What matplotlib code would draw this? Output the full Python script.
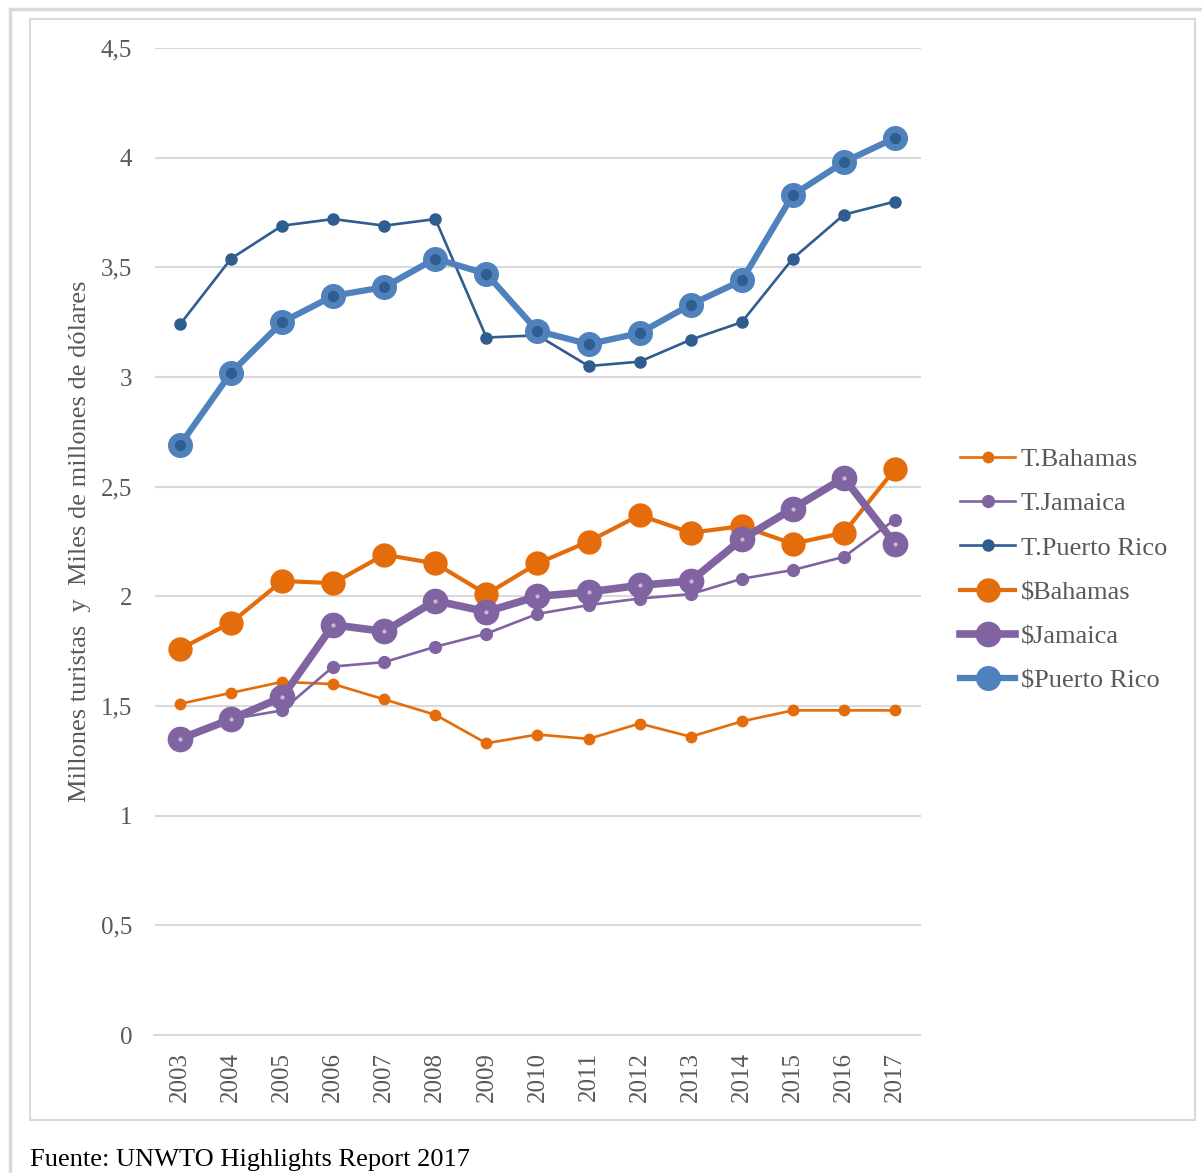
import matplotlib.pyplot as plt
from matplotlib.patches import Rectangle

plt.rcParams['font.family'] = ['Liberation Serif', 'DejaVu Serif']

anios = list(range(2003, 2018))

# turistas (millones)
t_bahamas = [1.51, 1.56, 1.61, 1.60, 1.53, 1.46, 1.33, 1.37, 1.35, 1.42, 1.36, 1.43, 1.48, 1.48, 1.48]
t_jamaica = [1.35, 1.44, 1.48, 1.68, 1.70, 1.77, 1.83, 1.92, 1.96, 1.99, 2.01, 2.08, 2.12, 2.18, 2.35]
t_puerto_rico = [3.24, 3.54, 3.69, 3.72, 3.69, 3.72, 3.18, 3.19, 3.05, 3.07, 3.17, 3.25, 3.54, 3.74, 3.80]

# ingresos (miles de millones de dolares)
d_bahamas = [1.76, 1.88, 2.07, 2.06, 2.19, 2.15, 2.01, 2.15, 2.25, 2.37, 2.29, 2.32, 2.24, 2.29, 2.58]
d_jamaica = [1.35, 1.44, 1.54, 1.87, 1.84, 1.98, 1.93, 2.00, 2.02, 2.05, 2.07, 2.26, 2.40, 2.54, 2.24]
d_puerto_rico = [2.69, 3.02, 3.25, 3.37, 3.41, 3.54, 3.47, 3.21, 3.15, 3.20, 3.33, 3.44, 3.83, 3.98, 4.09]

naranja = '#E46C0A'
morado = '#8064A2'
azul_osc = '#2F5D8F'
azul = '#4F81BD'
gris = '#595959'

fig = plt.figure(figsize=(12.02, 11.73), dpi=100)

# marcos de fondo
fig.patches.append(Rectangle((9.5 / 1202, -0.01), 1.1, (1173 - 8.5) / 1173 + 0.01,
                             transform=fig.transFigure, fill=False, ec='#D9D9D9', lw=2.5))
fig.patches.append(Rectangle((30 / 1202, (1173 - 1120) / 1173), 1165 / 1202, 1101 / 1173,
                             transform=fig.transFigure, fill=False, ec='#D9D9D9', lw=1.5))

ax = fig.add_axes([154.5 / 1202, 138 / 1173, 766 / 1202, 987 / 1173])

ax.plot(anios, t_bahamas, color=naranja, lw=1.9, marker='o', ms=7.5, label='T.Bahamas')
ax.plot(anios, t_jamaica, color=morado, lw=1.9, marker='o', ms=8.5, label='T.Jamaica')
ax.plot(anios, t_puerto_rico, color=azul_osc, lw=1.9, marker='o', ms=8, label='T.Puerto Rico')
ax.plot(anios, d_bahamas, color=naranja, lw=3, marker='o', ms=16.5, label='$Bahamas')
ax.plot(anios, d_jamaica, color=morado, lw=5.5, marker='o', ms=17.5, label='$Jamaica')
ax.plot(anios, d_jamaica, ls='none', marker='o', ms=2, color='#C9B8DC')
ax.plot(anios, d_puerto_rico, color=azul, lw=4.5, marker='o', ms=17, label='$Puerto Rico')
ax.plot(anios, d_puerto_rico, ls='none', marker='o', ms=7, color=azul_osc)

ax.set_xlim(2002.5, 2017.5)
ax.set_ylim(0, 4.5)
yticks = [0, 0.5, 1, 1.5, 2, 2.5, 3, 3.5, 4, 4.5]
ax.set_yticks(yticks)
ax.set_yticklabels([('%g' % v).replace('.', ',') for v in yticks])
ax.set_xticks(anios)
ax.set_xticklabels([str(a) for a in anios], rotation=90)
ax.tick_params(axis='both', length=0, labelsize=18, labelcolor=gris)
ax.tick_params(axis='y', pad=16)
ax.tick_params(axis='x', pad=12)
ax.grid(axis='y', color='#D9D9D9', lw=1.5)
ax.set_axisbelow(True)
for lado in ['top', 'right', 'left']:
    ax.spines[lado].set_visible(False)
ax.spines['bottom'].set_color('#D9D9D9')
ax.spines['bottom'].set_linewidth(1.5)

ax.set_ylabel('Millones turistas  y  Miles de millones de dólares', fontsize=19,
              color=gris, labelpad=7)

leg = ax.legend(loc='center left', bbox_to_anchor=(1.0516, 0.471), frameon=False,
                fontsize=19, labelcolor=gris, handlelength=2.1, handletextpad=0.2,
                labelspacing=0.79, borderpad=0, borderaxespad=0)

fig.text(30 / 1202, 1 - 1160 / 1173, 'Fuente: UNWTO Highlights Report 2017',
         fontsize=19, color='black', va='center', ha='left')

fig.savefig('out.png', dpi=100)
